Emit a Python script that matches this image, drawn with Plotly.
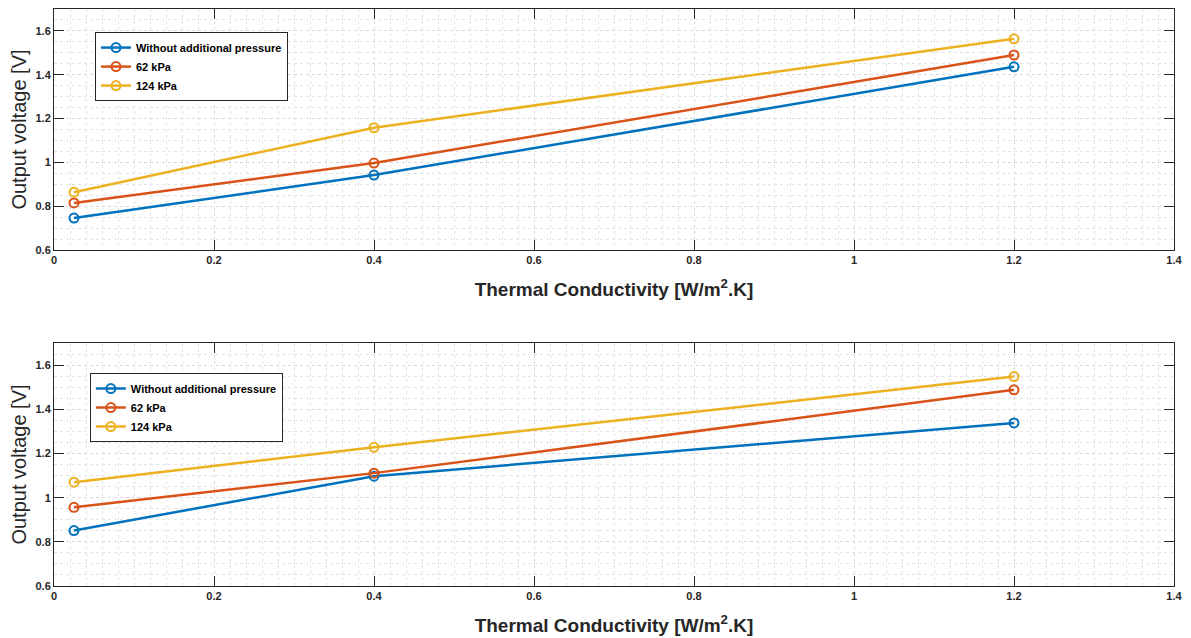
import plotly.graph_objects as go

x_vals = [0.025, 0.4, 1.2]
series_names = ["Without additional pressure", "62 kPa", "124 kPa"]
top_values = {
    "Without additional pressure": [0.746, 0.942, 1.436],
    "62 kPa": [0.815, 0.997, 1.49],
    "124 kPa": [0.864, 1.158, 1.564],
}
bottom_values = {
    "Without additional pressure": [0.851, 1.097, 1.338],
    "62 kPa": [0.956, 1.111, 1.488],
    "124 kPa": [1.07, 1.228, 1.548],
}
colors = ["#0072BD", "#D95319", "#EDB120"]
x_ticks = [0, 0.2, 0.4, 0.6, 0.8, 1, 1.2, 1.4]
x_tick_labels = ["0", "0.2", "0.4", "0.6", "0.8", "1", "1.2", "1.4"]
y_ticks = [0.6, 0.8, 1.0, 1.2, 1.4, 1.6]
y_tick_labels = ["0.6", "0.8", "1", "1.2", "1.4", "1.6"]

FONT = "Liberation Sans, Arial, sans-serif"
fig = go.Figure()

for i, name in enumerate(series_names):
    fig.add_trace(go.Scatter(
        x=x_vals, y=top_values[name], name=name, mode="lines+markers",
        line=dict(color=colors[i], width=2.5),
        marker=dict(symbol="circle-open", size=9, color=colors[i], line=dict(width=2)),
        xaxis="x", yaxis="y", legend="legend",
    ))
for i, name in enumerate(series_names):
    fig.add_trace(go.Scatter(
        x=x_vals, y=bottom_values[name], name=name, mode="lines+markers",
        line=dict(color=colors[i], width=2.5),
        marker=dict(symbol="circle-open", size=9, color=colors[i], line=dict(width=2)),
        xaxis="x2", yaxis="y2", legend="legend2",
    ))

def xaxis(domain_anchor):
    return dict(
        range=[0, 1.4], tickvals=x_ticks, ticktext=x_tick_labels,
        ticks="inside", ticklen=10, tickwidth=1, tickcolor="#262626",
        showline=True, linecolor="#262626", linewidth=1, mirror="ticks",
        showgrid=True, gridcolor="#d9d9d9", griddash="dot", gridwidth=1,
        minor=dict(dtick=0.02, tick0=0, showgrid=True, gridcolor="#e3e3e3", griddash="dot", gridwidth=1, ticks=""),
        zeroline=False, anchor=domain_anchor, automargin=False,
        tickfont=dict(family=FONT, size=11, color="#262626", weight="bold"),
        title=dict(text="Thermal Conductivity [W/m<sup>2</sup>.K]",
                   font=dict(family=FONT, size=19, color="#262626", weight="bold"), standoff=17),
    )

def yaxis(domain, anchor):
    return dict(
        domain=domain, range=[0.6, 1.7], tickvals=y_ticks, ticktext=y_tick_labels,
        ticks="inside", ticklen=10, tickwidth=1, tickcolor="#262626",
        showline=True, linecolor="#262626", linewidth=1, mirror="ticks",
        showgrid=True, gridcolor="#d9d9d9", griddash="dot", gridwidth=1,
        minor=dict(dtick=0.05, tick0=0.6, showgrid=True, gridcolor="#e3e3e3", griddash="dot", gridwidth=1, ticks=""),
        zeroline=False, anchor=anchor, automargin=False,
        tickfont=dict(family=FONT, size=11, color="#262626", weight="bold"),
        title=dict(text="Output voltage [V]",
                   font=dict(family=FONT, size=20, color="#262626"), standoff=4),
    )

legend_common = dict(
    bgcolor="white", bordercolor="#262626", borderwidth=1,
    font=dict(family=FONT, size=11, color="#000000", weight="bold"),
    xanchor="left", yanchor="top", itemwidth=30, tracegroupgap=0,
)

# The page body adds an 8px offset, so the figure is sized to fit the window.
fig.update_layout(
    width=1183, height=630,
    margin=dict(l=46, r=17, t=1, b=52, autoexpand=False),
    paper_bgcolor="white", plot_bgcolor="white",
    showlegend=True,
    xaxis=xaxis("y"),
    yaxis=yaxis([0.5823, 1.0], "x"),
    xaxis2=xaxis("y2"),
    yaxis2=yaxis([0.0, 0.4211], "x2"),
    legend=dict(x=0.0366, y=0.960, **legend_common),
    legend2=dict(x=0.032, y=0.369, **legend_common),
)

fig.write_html("out.html")
